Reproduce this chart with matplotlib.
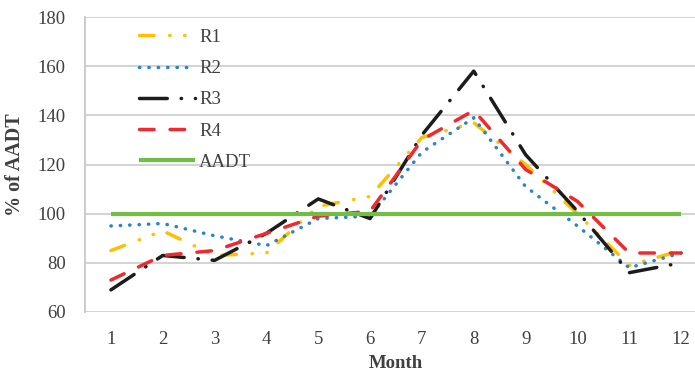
import matplotlib
matplotlib.use("Agg")
import matplotlib.pyplot as plt

# Monthly traffic as a percentage of AADT
months = [1, 2, 3, 4, 5, 6, 7, 8, 9, 10, 11, 12]
r1 = [85, 93, 83, 84, 103, 107, 131, 137, 120, 100, 79, 85]
r2 = [95, 96, 91, 87, 98, 99, 125, 139, 111, 95, 78, 84]
r3 = [69, 83, 81, 92, 106, 98, 132, 158, 124, 101, 76, 80]
r4 = [73, 83, 85, 92, 99, 101, 130, 142, 118, 105, 84, 84]
aadt = [100, 100, 100, 100, 100, 100, 100, 100, 100, 100, 100, 100]
y_ticks = [60, 80, 100, 120, 140, 160, 180]

plt.rcParams['font.family'] = ['Liberation Serif', 'DejaVu Serif']
text_color = '#404040'

fig = plt.figure(figsize=(6.95, 3.73), dpi=100)
ax = fig.add_axes([85 / 695, 61 / 373, 622 / 695, 295 / 373])

lw = 2.5
common = dict(linewidth=lw, dash_capstyle='round', solid_capstyle='round')
ax.plot(months, r1, color='#FFC000', label='R1',
        linestyle=(0, (4.2, 4.5, 0.1, 4.2, 0.1, 4.2)), **common)
ax.plot(months, r2, color='#2A84C6', label='R2',
        linestyle=(0, (0.1, 2.6)), **common)
ax.plot(months, r3, color='#1C1C1C', label='R3',
        linestyle=(0, (8, 4, 0.1, 4)), **common)
ax.plot(months, r4, color='#EE2A2F', label='R4',
        linestyle=(0, (4.2, 4.6)), **common)
ax.plot(months, aadt, color='#72BE44', label='AADT', linewidth=3.0,
        solid_capstyle='butt')

ax.set_xlim(0.5, 12.5)
ax.set_ylim(60, 180)
ax.set_xticks(months)
ax.set_yticks(y_ticks)
ax.yaxis.grid(True, color='#D0D0D0', linewidth=1.3)
ax.set_axisbelow(True)
for side in ('top', 'right', 'bottom'):
    ax.spines[side].set_visible(False)
ax.spines['left'].set_color('#C8C8C8')
ax.spines['left'].set_linewidth(1.3)
ax.tick_params(axis='both', length=0, labelsize=13.5, colors=text_color)
ax.tick_params(axis='y', pad=14)
ax.tick_params(axis='x', pad=14)

ax.set_xlabel('Month', fontsize=13.5, fontweight='bold', color=text_color, labelpad=5)
ax.set_ylabel('% of AADT', fontsize=14.5, fontweight='bold', color=text_color, labelpad=9)

leg = ax.legend(loc='upper left', bbox_to_anchor=(0.075, 0.985), frameon=False,
                fontsize=13.5, handlelength=3.0, handletextpad=0.2,
                labelspacing=0.75, borderaxespad=0)
for t in leg.get_texts():
    t.set_color(text_color)

fig.savefig('out.png', dpi=100)
